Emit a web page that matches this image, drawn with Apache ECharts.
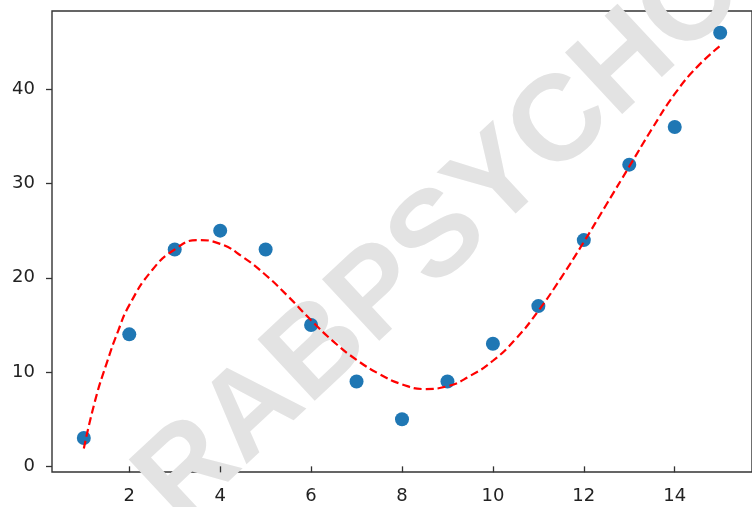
<!DOCTYPE html>
<html>
<head>
<meta charset="utf-8">
<script src="https://cdn.jsdelivr.net/npm/echarts@6/dist/echarts.min.js"></script>
<style>
  html, body { margin: 0; padding: 0; background: #fff; overflow: hidden; }
  #chart { width: 752px; height: 507px; }
</style>
</head>
<body>
<div id="chart"></div>
<script>
// scatter data
const pointX = [1, 2, 3, 4, 5, 6, 7, 8, 9, 10, 11, 12, 13, 14, 15];
const pointY = [3, 14, 23, 25, 23, 15, 9, 5, 9, 13, 17, 24, 32, 36, 46];

// dashed fit curve
const fitX = [1, 1.25, 1.5, 1.75, 2, 2.5, 3, 3.5, 4, 4.5, 5, 5.5, 6, 6.5, 7, 7.5, 8, 8.5, 9, 9.5, 10, 10.5, 11, 11.5, 12, 12.5, 13, 13.5, 14, 14.5, 15];
const fitY = [1.9, 7.0, 10.9, 14.3, 17.1, 20.8, 23.0, 24.0, 23.6, 22.2, 20.3, 18.0, 15.5, 13.2, 11.3, 9.8, 8.7, 8.2, 8.5, 9.6, 11.2, 13.5, 16.5, 20.0, 23.8, 27.8, 31.8, 35.8, 39.5, 42.4, 44.6];

// tick labels
const xTicks = [2, 4, 6, 8, 10, 12, 14];
const yTicks = [0, 10, 20, 30, 40];

const myChart = echarts.init(document.getElementById('chart'));

const axisText = { color: '#222', fontSize: 18, fontFamily: 'DejaVu Sans' };

const option = {
  animation: false,
  grid: {
    left: 52, top: 11, right: -8, bottom: 35,
    show: true,
    borderColor: '#333',
    borderWidth: 1.4,
    backgroundColor: 'transparent'
  },
  graphic: [
    {
      // watermark
      type: 'text',
      x: 442,
      y: 236,
      rotation: 43 * Math.PI / 180,
      z: 0,
      silent: true,
      style: {
        text: 'RABPSYCHO',
        fontSize: 122,
        fontWeight: 'bold',
        fontFamily: 'Liberation Sans',
        fill: '#e3e3e3',
        align: 'center',
        verticalAlign: 'middle'
      }
    }
  ],
  xAxis: {
    type: 'value',
    min: 0.3,
    max: 15.7,
    axisLine: { show: false },
    splitLine: { show: false },
    axisTick: {
      show: true, inside: false, length: 6,
      customValues: xTicks,
      lineStyle: { color: '#333', width: 1.3 }
    },
    axisLabel: { ...axisText, margin: 15, customValues: xTicks }
  },
  yAxis: {
    type: 'value',
    min: -0.6,
    max: 48.3,
    axisLine: { show: false },
    splitLine: { show: false },
    axisTick: {
      show: true, inside: false, length: 6,
      customValues: yTicks,
      lineStyle: { color: '#333', width: 1.3 }
    },
    axisLabel: { ...axisText, margin: 17, customValues: yTicks }
  },
  series: [
    {
      type: 'line',
      data: fitX.map((x, i) => [x, fitY[i]]),
      showSymbol: false,
      smooth: 0.5,
      z: 3,
      lineStyle: { color: '#ff0000', width: 2.2, type: [8, 4] }
    },
    {
      type: 'scatter',
      data: pointX.map((x, i) => [x, pointY[i]]),
      symbolSize: 14,
      z: 2,
      itemStyle: { color: '#1f77b4', opacity: 1 }
    }
  ]
};

myChart.setOption(option);
</script>
</body>
</html>
